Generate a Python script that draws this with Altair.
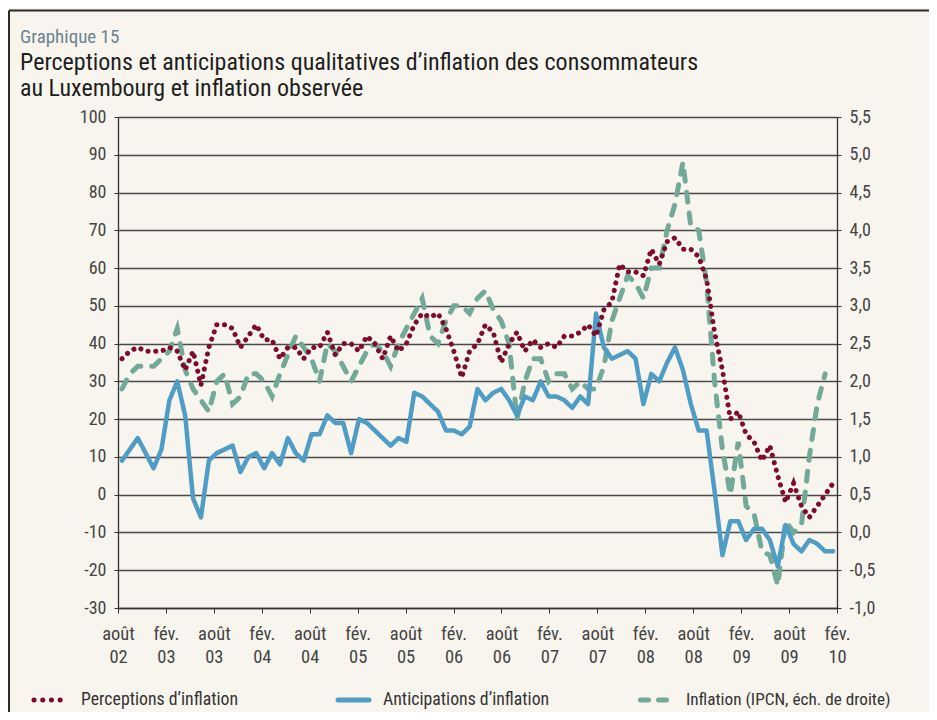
import altair as alt
import pandas as pd

# ---------------- data (monthly, Aug 2002 .. Feb 2010) ----------------
perceptions = [36, 38, 39, 38, 38, 38, 39, 38, 33, 38,
               29, 39, 45, 45, 44, 39, 42, 45, 41, 41,
               36, 39, 39, 36, 39, 39, 43, 37, 40, 40,
               38, 42, 40, 36, 42, 38, 40, 45, 48, 47,
               48, 44, 38, 31, 38, 40, 45, 43, 35, 40,
               43, 38, 41, 39, 40, 39, 42, 42, 43, 45,
               42, 49, 51, 61, 59, 59, 58, 65, 61, 67,
               68, 65, 65, 63, 57, 43, 33, 20, 22, 16,
               14, 9, 13, 5, -2, 3, -3, -6, -3, 0,
               3]
anticipations = [9, 12, 15, 11, 7, 12, 25, 30, 21, -1,
                 -6, 9, 11, 12, 13, 6, 10, 11, 7, 11,
                 8, 15, 11, 9, 16, 16, 21, 19, 19, 11,
                 20, 19, 17, 15, 13, 15, 14, 27, 26, 24,
                 22, 17, 17, 16, 18, 28, 25, 27, 28, 25,
                 21, 26, 25, 30, 26, 26, 25, 23, 26, 24,
                 48, 39, 36, 37, 38, 36, 24, 32, 30, 35,
                 39, 33, 24, 17, 17, 1, -16, -7, -7, -12,
                 -9, -9, -12, -19, -8, -13, -15, -12, -13, -15,
                 -15]
inflation = [1.9, 2.1, 2.2, 2.2, 2.2, 2.3, 2.4, 2.7, 2.15, 1.9,
             1.75, 1.6, 2.0, 2.1, 1.7, 1.8, 2.1, 2.1, 2.0, 1.8,
             2.1, 2.35, 2.6, 2.45, 2.3, 2.0, 2.5, 2.4, 2.2, 2.0,
             2.2, 2.4, 2.5, 2.4, 2.2, 2.5, 2.7, 2.9, 3.1, 2.6,
             2.5, 2.8, 3.0, 3.0, 2.9, 3.1, 3.2, 2.95, 2.8, 2.5,
             1.5, 2.0, 2.3, 2.3, 2.0, 2.1, 2.1, 1.9, 2.0, 1.9,
             1.9, 2.2, 2.8, 3.1, 3.4, 3.3, 3.1, 3.5, 3.5, 4.0,
             4.35, 4.9, 4.05, 4.0, 3.3, 2.0, 1.1, 0.5, 1.2, 0.35,
             0.25, -0.25, -0.3, -0.7, 0.15, 0.0, 0.1, 1.0, 1.7, 2.1,
             None]

tick_labels = ["août 02", "fév. 03", "août 03", "fév. 04", "août 04", "fév. 05",
               "août 05", "fév. 06", "août 06", "fév. 07", "août 07", "fév. 08",
               "août 08", "fév. 09", "août 09", "fév. 10"]
left_ticks = list(range(-30, 101, 10))
right_ticks = [-1.0, -0.5, 0.0, 0.5, 1.0, 1.5, 2.0, 2.5, 3.0, 3.5, 4.0, 4.5, 5.0, 5.5]
series_names = ["Perceptions d’inflation", "Anticipations d’inflation",
                "Inflation (IPCN, éch. de droite)"]
chart_label = "Graphique 15"
chart_title = "Perceptions et anticipations qualitatives d’inflation des consommateurs\nau Luxembourg et inflation observée"

# ---------------- styles ----------------
FONT = "Liberation Sans Narrow, Roboto Condensed, DejaVu Sans Condensed, sans-serif"
RED = "#7D0C2E"
BLUE = "#4F9DC5"
GREEN = "#73A999"
BG = "#F8F5EE"
N = len(perceptions)

pos = [i + 0.5 for i in range(N)]
left_df = pd.DataFrame({"t": pos, "perc": perceptions, "anti": anticipations})
green_df = pd.DataFrame({"t": pos, "infl": inflation}).dropna()

xvals = [k * N / 15 for k in range(16)]
xlab_js = "[" + ",".join("'" + s + "'" for s in tick_labels) + "]"
x_enc = alt.X("t:Q",
              scale=alt.Scale(domain=[0, N], nice=False, zero=False),
              axis=alt.Axis(values=xvals, grid=False, title=None,
                            labelExpr=f"split({xlab_js}[round(datum.value*15/{N})], ' ')",
                            labelFont=FONT, labelFontSize=18.5, labelColor="#444",
                            labelLineHeight=23, labelPadding=11, labelOverlap=False,
                            labelFlush=False, labelBound=False,
                            domainColor="#333", domainWidth=1.3,
                            tickColor="#333", tickSize=5, tickWidth=1))

left_axis = alt.Axis(values=left_ticks, title=None, orient="left",
                     labelExpr="replace(format(datum.value, 'd'), '−', '-')",
                     labelFont=FONT, labelFontSize=18, labelColor="#444", labelPadding=8,
                     grid=True, gridColor="#4a4a4a", gridWidth=1.5,
                     domainColor="#333", domainWidth=1.3,
                     tickColor="#333", tickSize=4)
left_scale = alt.Scale(domain=[-30, 100], nice=False, zero=False)

right_axis = alt.Axis(values=right_ticks, title=None, orient="right",
                      labelExpr="replace(replace(format(datum.value, '.1f'), '.', ','), '−', '-')",
                      labelFont=FONT, labelFontSize=18, labelColor="#444", labelPadding=8,
                      grid=False, domainColor="#333", domainWidth=1.3,
                      tickColor="#333", tickSize=4)
right_scale = alt.Scale(domain=[-1.0, 5.5], nice=False, zero=False)

blue_line = alt.Chart(left_df).mark_line(
    color=BLUE, strokeWidth=4.5, strokeJoin="round", strokeCap="round"
).encode(x=x_enc, y=alt.Y("anti:Q", scale=left_scale, axis=left_axis))

red_line = alt.Chart(left_df).mark_line(
    color=RED, strokeWidth=5, strokeDash=[0.1, 7.6], strokeCap="round"
).encode(x=x_enc, y=alt.Y("perc:Q", scale=left_scale, axis=left_axis))

green_line = alt.Chart(green_df).mark_line(
    color=GREEN, strokeWidth=5, strokeDash=[10, 11], strokeCap="round"
).encode(x=x_enc, y=alt.Y("infl:Q", scale=right_scale, axis=right_axis))

left_layer = alt.layer(blue_line, red_line)

# ---------------- decorations (titles, legend, frame) ----------------
one = pd.DataFrame({"k": [0]})


def txt(text, x, y, size, color, baseline="middle", **kw):
    return alt.Chart(pd.DataFrame({"s": [text]})).mark_text(
        align="left", baseline=baseline, font=FONT, fontSize=size, color=color, **kw
    ).encode(x=alt.value(x), y=alt.value(y), text="s:N")


def hrule(x1, x2, y, color, width, **kw):
    return alt.Chart(one).mark_rule(color=color, strokeWidth=width, **kw).encode(
        x=alt.value(x1), x2=alt.value(x2), y=alt.value(y))


LEG_Y = 583
deco = [
    # frame
    hrule(-109, 820, -106.5, "#2b2b2b", 2),
    alt.Chart(one).mark_rule(color="#2b2b2b", strokeWidth=2).encode(
        x=alt.value(-109), y=alt.value(-106.5), y2=alt.value(600)),
    # titles
    txt(chart_label, -98, -80, 19, "#6C8391"),
    txt(chart_title, -98, -47, 24, "#1E1E1E", baseline="alphabetic",
        lineBreak="\n", lineHeight=26),
    # legend
    hrule(-84, -57.5, LEG_Y, RED, 5, strokeDash=[0.1, 8.6], strokeCap="round"),
    txt(series_names[0], -37, LEG_Y, 17.8, "#333"),
    hrule(220, 251, LEG_Y, BLUE, 5, strokeCap="round"),
    txt(series_names[1], 265, LEG_Y, 17.8, "#333"),
    hrule(522.5, 549.5, LEG_Y, GREEN, 5, strokeDash=[8, 10], strokeCap="round"),
    txt(series_names[2], 568, LEG_Y, 17.2, "#333"),
]

chart = alt.layer(green_line, left_layer, *deco).resolve_scale(y="independent").properties(
    width=719, height=491,
    autosize=alt.AutoSizeParams(type="none"),
    padding={"left": 110, "top": 109, "right": 92, "bottom": 104},
).configure(background=BG).configure_view(stroke="transparent")

chart.save("out.html", embed_options={"renderer": "svg", "actions": False})
